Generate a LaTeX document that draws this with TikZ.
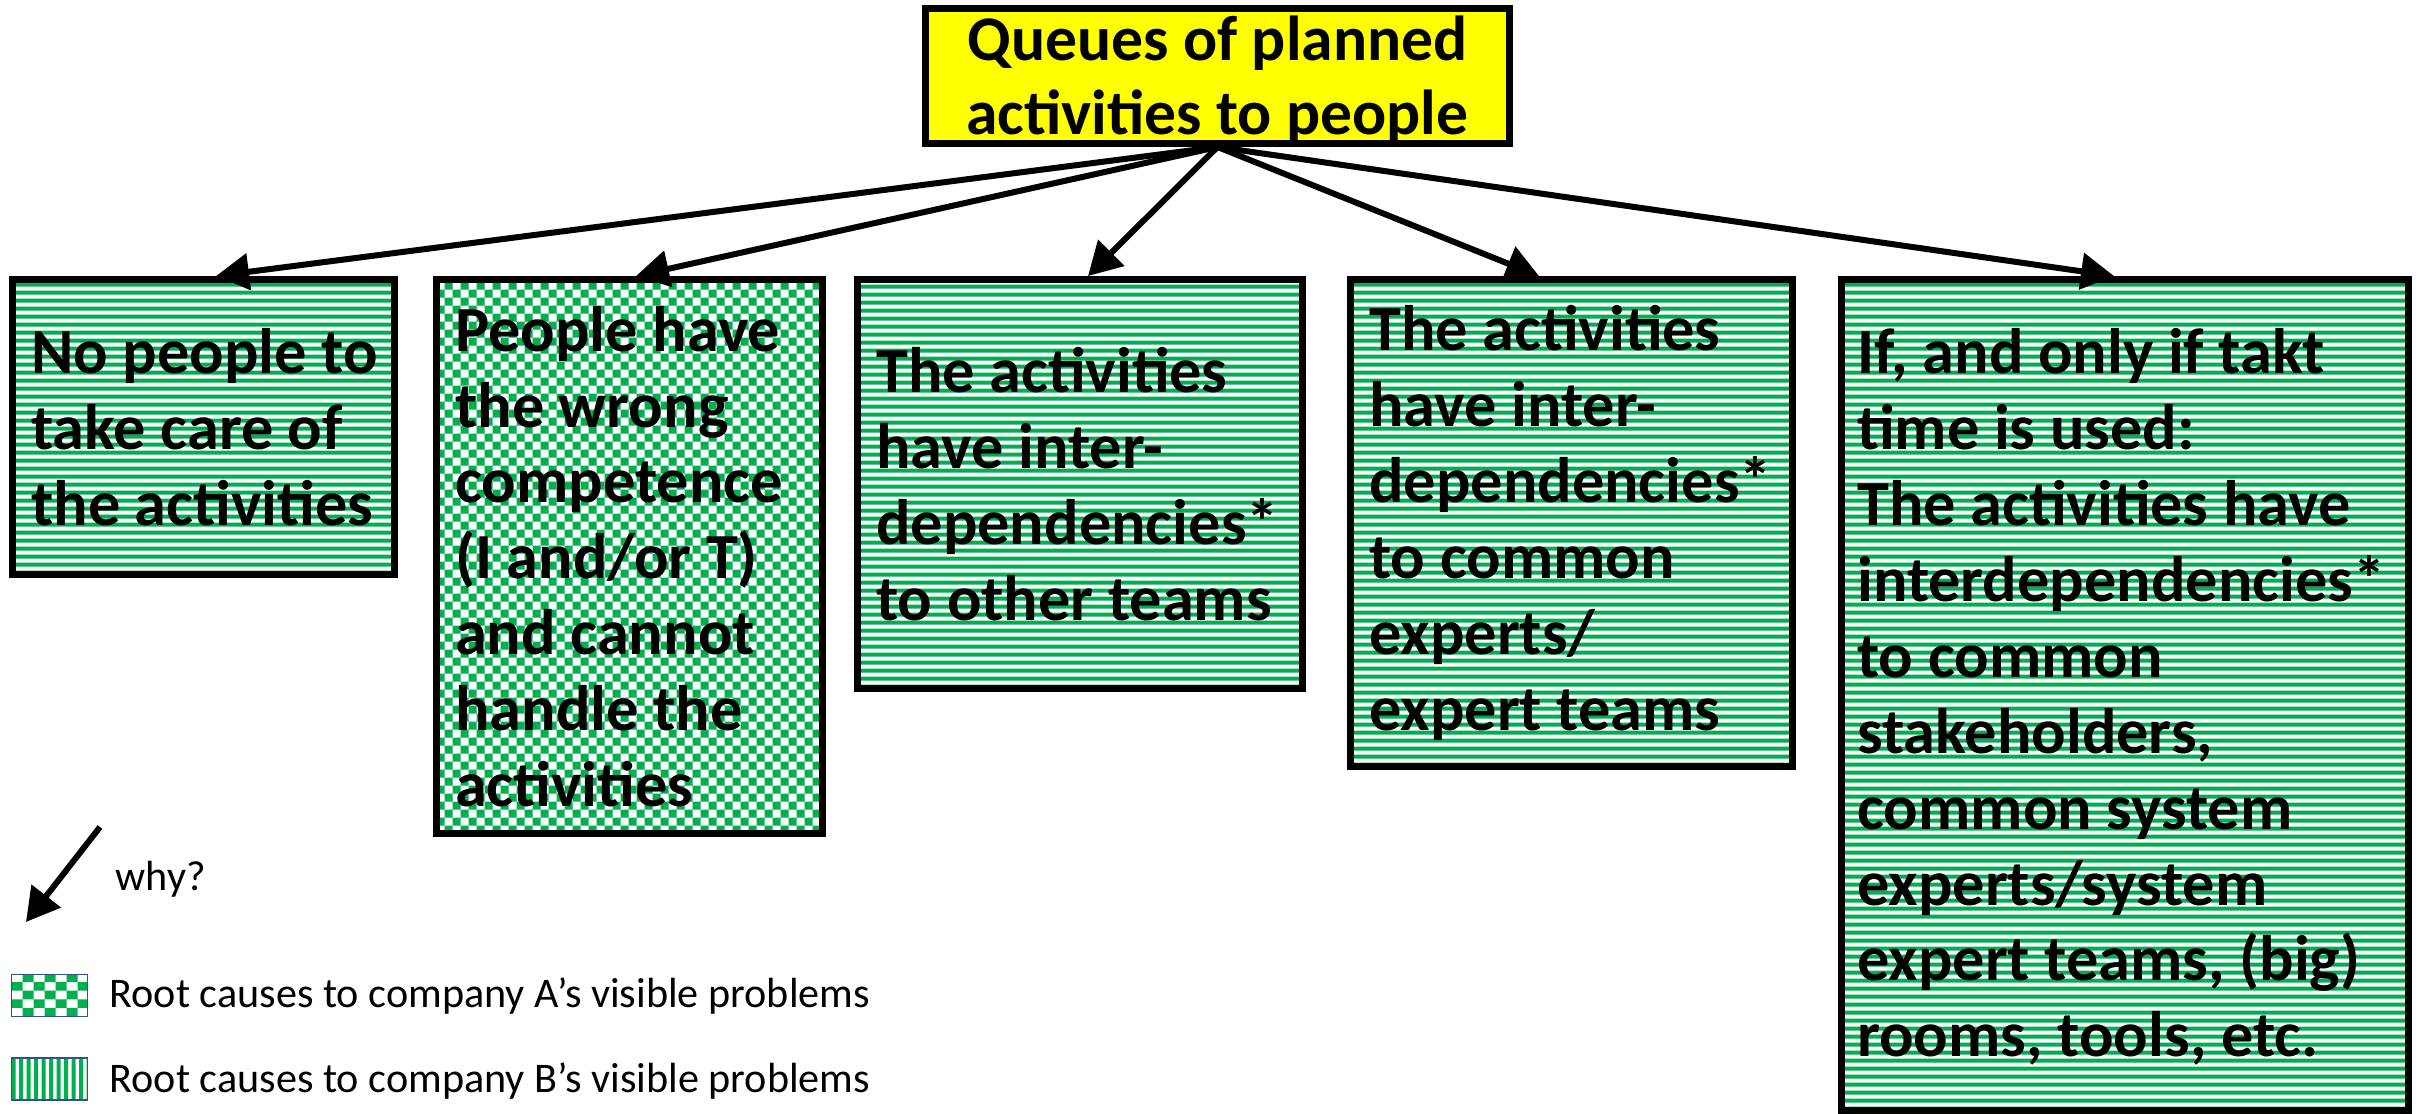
\documentclass[tikz,border=0pt]{standalone}
\usepackage{fontspec}
\setmainfont{Carlito}
\usetikzlibrary{arrows.meta}
\definecolor{grn}{HTML}{00B050}
\definecolor{ylw}{HTML}{FFFF00}
\definecolor{lgd}{HTML}{2F528F}
\tikzset{
  box/.style={draw=black, line width=0.7mm, inner sep=0pt, fill=white},
  topbox/.style={box, fill=ylw},
  txt/.style={inner sep=0pt, align=left, anchor=west,
    font=\fontsize{18.3}{21.6}\selectfont\bfseries},
  toptxt/.style={inner sep=0pt, align=center,
    font=\fontsize{18.1}{21}\selectfont\bfseries},
  hstr/.style={path picture={\fill[grn] \foreach \k in {0,...,112}{
      ([yshift=\k*0.8mm]path picture bounding box.south west) rectangle
      ([yshift=\k*0.8mm+0.4mm]path picture bounding box.south east)};}},
  chk/.style={path picture={\fill[grn,even odd rule]
      \foreach \k in {0,...,40}{
      ([yshift=\k*1.6mm]path picture bounding box.south west) rectangle
      ([yshift=\k*1.6mm+0.8mm]path picture bounding box.south east)}
      \foreach \k in {0,...,30}{
      ([xshift=\k*1.6mm]path picture bounding box.south west) rectangle
      ([xshift=\k*1.6mm+0.8mm]path picture bounding box.north west)};}},
  lgbox/.style={draw=lgd, line width=0.5pt, fill=white, inner sep=0pt,
      minimum width=7.6mm, minimum height=4.2mm},
  lgchk/.style={path picture={\fill[grn,even odd rule]
      \foreach \k in {0,...,4}{
      ([yshift=\k*1.72mm]path picture bounding box.south west) rectangle
      ([yshift=\k*1.72mm+0.86mm]path picture bounding box.south east)}
      \foreach \k in {0,...,5}{
      ([xshift=\k*2.2mm]path picture bounding box.south west) rectangle
      ([xshift=\k*2.2mm+1.1mm]path picture bounding box.north west)};}},
  lgvstr/.style={path picture={\fill[grn] \foreach \k in {0,...,11}{
      ([xshift=\k*0.75mm]path picture bounding box.south west) rectangle
      ([xshift=\k*0.75mm+0.4mm]path picture bounding box.north west)};}},
  lgtext/.style={inner sep=0pt, anchor=base west, font=\fontsize{12}{14}\selectfont},
  arr/.style={draw=black, line width=0.6mm, -{Triangle[length=3.3mm,width=3.6mm]}},
}
\begin{document}
\begin{tikzpicture}[x=0.1mm, y=-0.1mm]
\useasboundingbox (0,0) rectangle (2420,1113);

\node[topbox, minimum width=58.4mm, minimum height=13.5mm] (top) at (1217.5,76) {};
\node[toptxt] (topt) at (1217.5,80) {Queues of planned\\activities to people};

\node[box, hstr, minimum width=38.2mm, minimum height=29.5mm] (b1) at (203.5,427) {};
\node[txt] (t1) at ([xshift=2.15mm]b1.west) {No people to\\take care of\\the activities};

\node[box, chk, minimum width=38.6mm, minimum height=55.4mm] (b2) at (629.5,556.5) {};
\node[txt] (t2) at ([xshift=2.15mm]b2.west)
  {People have\\the wrong\\competence\\(I and/or T)\\and cannot\\handle the\\activities};

\node[box, hstr, minimum width=44.5mm, minimum height=40.9mm] (b3) at (1080,484) {};
\node[txt] (t3) at ([xshift=2.15mm]b3.west)
  {The activities\\have inter-\\dependencies*\\to other teams};

\node[box, hstr, minimum width=44.2mm, minimum height=48.7mm] (b4) at (1571.5,523) {};
\node[txt] (t4) at ([xshift=2.15mm]b4.west)
  {The activities\\have inter-\\dependencies*\\to common\\experts/\\expert teams};

\node[box, hstr, minimum width=56.7mm, minimum height=83.1mm] (b5) at (2125,695) {};
\node[txt] (t5) at ([xshift=1.85mm,yshift=-0.2mm]b5.west)
  {If, and only if takt\\time is used:\\The activities have\\interdependencies*\\to common\\stakeholders,\\common system\\experts/system\\expert teams, (big)\\rooms, tools, etc.};

\draw[arr] (top.south) -- ([xshift=1.25mm]b1.north);
\draw[arr] (top.south) -- ([xshift=0.65mm]b2.north);
\draw[arr] (top.south) -- ([xshift=0.8mm]b3.north);
\draw[arr] (top.south) -- ([xshift=-3.25mm]b4.north);
\draw[arr] (top.south) -- ([xshift=-1.1mm]b5.north);

% legend
\coordinate (wt) at (100,827);
\coordinate (wh) at (26,922);
\draw[arr] (wt) -- (wh);
\node[lgtext] (why) at (115,890) {why?};

\node[lgbox, lgchk] (la) at (49.5,995.5) {};
\node[lgtext] (lat) at (109,1007) {Root causes to company A’s visible problems};
\node[lgbox, lgvstr] (lb) at (49.5,1079) {};
\node[lgtext] (lbt) at (109,1092) {Root causes to company B’s visible problems};
\end{tikzpicture}
\end{document}
